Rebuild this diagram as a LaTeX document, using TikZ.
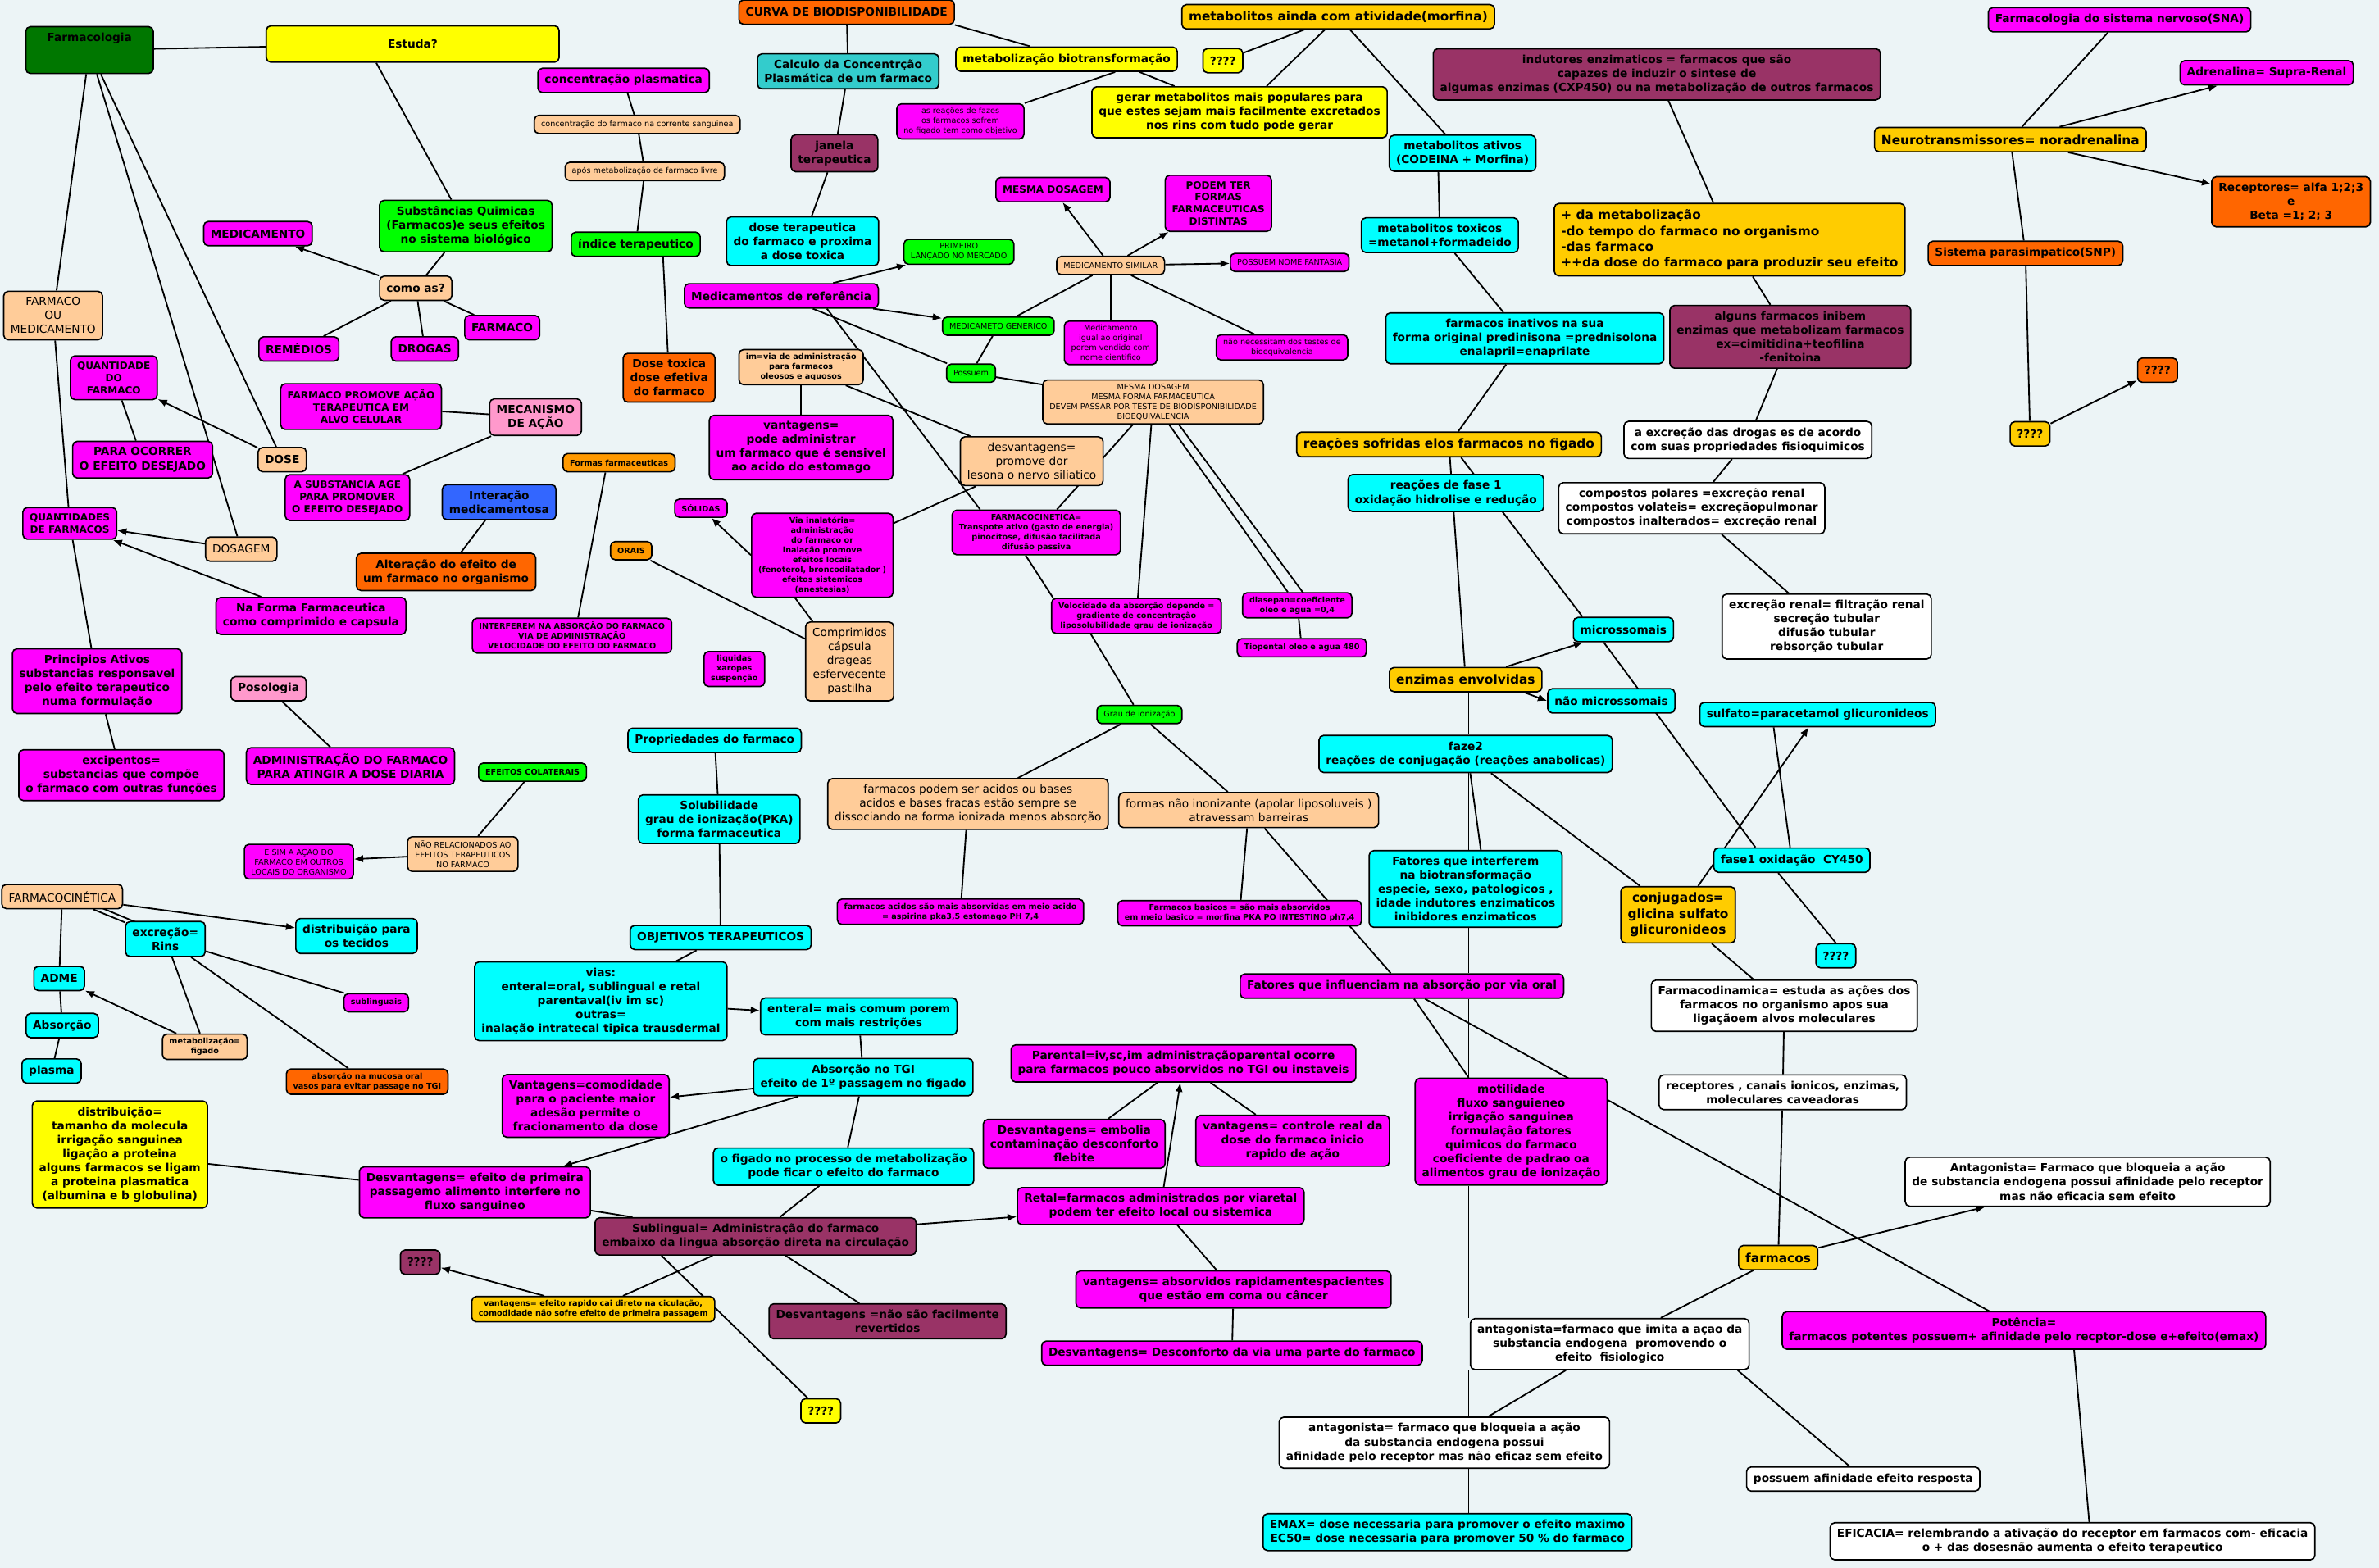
\documentclass[tikz,border=0pt]{standalone}
\usepackage{fontspec}
\setmainfont{DejaVu Sans}
\usetikzlibrary{arrows.meta, positioning, calc}

\definecolor{mapbg}{RGB}{236,244,246}
\definecolor{cmLeaf}{RGB}{0,119,0}
\definecolor{cmLemon}{RGB}{255,255,0}
\definecolor{cmLime}{RGB}{0,255,0}
\definecolor{cmMag}{RGB}{255,0,255}
\definecolor{cmCyan}{RGB}{0,255,255}
\definecolor{cmPeach}{RGB}{255,204,153}
\definecolor{cmPink}{RGB}{255,153,204}
\definecolor{cmBlue}{RGB}{51,102,255}
\definecolor{cmOrange}{RGB}{255,102,0}
\definecolor{cmAmber}{RGB}{255,153,0}
\definecolor{cmGold}{RGB}{255,204,0}
\definecolor{cmTeal}{RGB}{51,204,204}
\definecolor{cmMaroon}{RGB}{153,51,102}

\pgfdeclarelayer{backdrop}
\pgfdeclarelayer{links}
\pgfsetlayers{backdrop,links,main}

\begin{document}
\begin{tikzpicture}[
    x=1pt, y=-1pt,
    mapbox/.style={draw=black, line width=0.9pt, rounded corners=3pt, align=center,
        inner xsep=4.5pt, inner ysep=4pt, minimum height=16,
        font=\bfseries\fontsize{7.4}{9.2}\selectfont},
    fbig/.style={font=\bfseries\fontsize{8.3}{10.5}\selectfont},
    fmid/.style={font=\bfseries\fontsize{6.5}{8}\selectfont},
    fsm/.style={font=\bfseries\fontsize{5.2}{6.5}\selectfont, minimum height=12, inner ysep=2.5pt},
    freg/.style={font=\fontsize{7.4}{9.2}\selectfont},
    fsmreg/.style={font=\fontsize{5.2}{6.5}\selectfont, minimum height=12, inner ysep=2.5pt},
    leaf box/.style={mapbox, fill=cmLeaf},
    lemon box/.style={mapbox, fill=cmLemon},
    lime box/.style={mapbox, fill=cmLime},
    magenta box/.style={mapbox, fill=cmMag},
    cyan box/.style={mapbox, fill=cmCyan},
    peach box/.style={mapbox, fill=cmPeach},
    pink box/.style={mapbox, fill=cmPink},
    blue box/.style={mapbox, fill=cmBlue},
    orange box/.style={mapbox, fill=cmOrange},
    amber box/.style={mapbox, fill=cmAmber},
    gold box/.style={mapbox, fill=cmGold},
    teal box/.style={mapbox, fill=cmTeal},
    maroon box/.style={mapbox, fill=cmMaroon},
    white box/.style={mapbox, fill=white},
    map link/.style={draw=black, line width=1pt},
    map arrow/.style={map link, -{Latex[length=6pt,width=5pt]}}
]

\useasboundingbox (0,0) rectangle (1568,1033.6);
\begin{pgfonlayer}{backdrop}
\fill[mapbg] (0,0) rectangle (1568,1033.6);
\end{pgfonlayer}

% --- Farmacologia and its first branches ---
\node[leaf box, minimum width=84] (far) at (59,33) {Farmacologia\\[8pt]\mbox{}};
\node[lemon box, minimum width=193, minimum height=24] (est) at (272,29) {Estuda?};
\node[lime box] (subst) at (307,149) {Substâncias Quimicas\\(Farmacos)e seus efeitos\\no sistema biológico};
\node[magenta box] (medic) at (170,154) {MEDICAMENTO};
\node[peach box] (comoas) at (274,190) {como as?};
\node[magenta box] (remed) at (197,230) {REMÉDIOS};
\node[magenta box] (drog) at (280,230) {DROGAS};
\node[magenta box] (farm) at (331,216) {FARMACO};
\node[peach box, freg] (fom) at (35,208) {FARMACO\\OU\\MEDICAMENTO};
\node[magenta box, fmid] (qtd) at (75,249) {QUANTIDADE\\DO\\FARMACO};
\node[magenta box] (para) at (94,303) {PARA OCORRER\\O EFEITO DESEJADO};
\node[peach box] (dose) at (186,303) {DOSE};
\node[magenta box, fmid] (farpro) at (238,268) {FARMACO PROMOVE AÇÃO\\TERAPEUTICA EM\\ALVO CELULAR};
\node[pink box] (mec) at (353,275) {MECANISMO\\DE AÇÃO};
\node[magenta box, fmid] (subage) at (229,328) {A SUBSTANCIA AGE\\PARA PROMOVER\\O EFEITO DESEJADO};
\node[blue box] (inter) at (329,331) {Interação\\medicamentosa};
\node[orange box] (alter) at (294,377) {Alteração do efeito de\\um farmaco no organismo};
\node[magenta box, fmid] (qtds) at (46,345) {QUANTIDADES\\DE FARMACOS};
\node[peach box, freg] (dosag) at (159,362) {DOSAGEM};
\node[magenta box] (naforma) at (205,406) {Na Forma Farmaceutica\\como comprimido e capsula};
\node[magenta box] (princ) at (64,449) {Principios Ativos\\substancias responsavel\\pelo efeito terapeutico\\numa formulação};
\node[pink box] (poso) at (177,454) {Posologia};
\node[magenta box] (excip) at (80,511) {excipentos=\\substancias que compõe\\o farmaco com outras funções};
\node[magenta box] (admin) at (231,505) {ADMINISTRAÇÃO DO FARMACO\\PARA ATINGIR A DOSE DIARIA};
\node[lime box, fsm] (efcol) at (351,509) {EFEITOS COLATERAIS};
\node[peach box, fsmreg] (naorel) at (305,563) {NÃO RELACIONADOS AO\\EFEITOS TERAPEUTICOS\\NO FARMACO};
\node[magenta box, fsmreg] (esim) at (197,568) {E SIM A AÇÃO DO\\FARMACO EM OUTROS\\LOCAIS DO ORGANISMO};

% --- Farmacocinetica (ADME) ---
\node[peach box, freg] (fcin) at (41,591) {FARMACOCINÉTICA};
\node[cyan box] (excr) at (109,619) {excreção=\\Rins};
\node[cyan box] (distr) at (235,617) {distribuição para\\os tecidos};
\node[cyan box] (adme) at (39,645) {ADME};
\node[cyan box] (absor) at (41,676) {Absorção};
\node[cyan box] (plasma) at (34,706) {plasma};
\node[peach box, fsm] (metfig) at (135,690) {metabolização=\\figado};
\node[magenta box, fsm] (subl) at (248,661) {sublinguais};
\node[orange box, fsm] (mucosa) at (242,713) {absorção na mucosa oral\\vasos para evitar passage no TGI};
\node[lemon box] (distsang) at (79,761) {distribuição=\\tamanho da molecula\\irrigação sanguinea\\ligação a proteina\\alguns farmacos se ligam\\a proteina plasmatica\\(albumina e b globulina)};

% --- Formas farmaceuticas ---
\node[amber box, fsm] (formas) at (408,305) {Formas farmaceuticas};
\node[magenta box, fsm] (interf) at (377,419) {INTERFEREM NA ABSORÇÃO DO FARMACO\\VIA DE ADMINISTRAÇÃO\\VELOCIDADE DO EFEITO DO FARMACO};
\node[magenta box, fsm] (solid) at (462,335) {SÓLIDAS};
\node[amber box, fsm] (orais) at (416,363) {ORAIS};
\node[magenta box, fsm] (inal) at (542,366) {Via inalatória=\\administração\\do farmaco or\\inalação promove\\efeitos locais\\(fenoterol, broncodilatador )\\efeitos sistemicos\\(anestesias)};
\node[magenta box, fsm] (liq) at (484,441) {liquidas\\xaropes\\suspenção};
\node[peach box, freg] (compr) at (560,436) {Comprimidos\\cápsula\\drageas\\esfervecente\\pastilha};

% --- Vias de administracao ---
\node[cyan box] (prop) at (471,488) {Propriedades do farmaco};
\node[cyan box] (solub) at (474,540) {Solubilidade\\grau de ionização(PKA)\\forma farmaceutica};
\node[cyan box] (objt) at (475,618) {OBJETIVOS TERAPEUTICOS};
\node[cyan box] (vias) at (396,660) {vias:\\enteral=oral, sublingual e retal\\parentaval(iv im sc)\\outras=\\inalação intratecal tipica trausdermal};
\node[cyan box] (enter) at (566,670) {enteral= mais comum porem\\com mais restrições};
\node[cyan box] (tgi) at (569,710) {Absorção no TGI\\efeito de 1º passagem no figado};
\node[magenta box] (vantcom) at (386,729) {Vantagens=comodidade\\para o paciente maior\\adesão permite o\\fracionamento da dose};
\node[cyan box] (figado) at (556,769) {o figado no processo de metabolização\\pode ficar o efeito do farmaco};
\node[magenta box] (desvpri) at (313,786) {Desvantagens= efeito de primeira\\passagemo alimento interfere no\\fluxo sanguineo};
\node[maroon box] (sublg) at (498,815) {Sublingual= Administração do farmaco\\embaixo da lingua absorção direta na circulação};
\node[maroon box] (qm1) at (277,832) {????};
\node[gold box, fsm] (vantrap) at (391,863) {vantagens= efeito rapido cai direto na ciculação,\\comodidade não sofre efeito de primeira passagem};
\node[maroon box] (desvrev) at (585,871) {Desvantagens =não são facilmente\\revertidos};
\node[lemon box] (qy1) at (541,930) {????};
\node[magenta box] (parent) at (780,701) {Parental=iv,sc,im administraçãoparental ocorre\\para farmacos pouco absorvidos no TGI ou instaveis};
\node[magenta box] (desvemb) at (708,754) {Desvantagens= embolia\\contaminação desconforto\\flebite};
\node[magenta box] (vantctl) at (852,752) {vantagens= controle real da\\dose do farmaco inicio\\rapido de ação};
\node[magenta box] (retal) at (765,795) {Retal=farmacos administrados por viaretal\\podem ter efeito local ou sistemica};
\node[magenta box] (vantabs) at (813,850) {vantagens= absorvidos rapidamentespacientes\\que estão em coma ou câncer};
\node[magenta box] (desvdesc) at (812,892) {Desvantagens= Desconforto da via uma parte do farmaco};

% --- Biodisponibilidade and medicamentos ---
\node[orange box] (curva) at (558,8) {CURVA DE BIODISPONIBILIDADE};
\node[teal box] (calc) at (559,47) {Calculo da Concentrção\\Plasmática de um farmaco};
\node[lemon box] (metbio) at (703,39) {metabolização biotransformação};
\node[magenta box] (concpl) at (411,53) {concentração plasmatica};
\node[peach box, fsmreg] (concfar) at (420,82) {concentração do farmaco na corrente sanguinea};
\node[peach box, fsmreg] (apos) at (425,113) {após metabolização de farmaco livre};
\node[lime box] (indice) at (419,161) {índice terapeutico};
\node[orange box] (dtox) at (441,249) {Dose toxica\\dose efetiva\\do farmaco};
\node[maroon box] (janela) at (550,101) {janela\\terapeutica};
\node[magenta box, fsmreg] (reacfaz) at (633,80) {as reações de fazes\\os farmacos sofrem\\no figado tem como objetivo};
\node[cyan box] (dter) at (529,159) {dose terapeutica\\do farmaco e proxima\\a dose toxica};
\node[magenta box] (medref) at (515,195) {Medicamentos de referência};
\node[lime box, fsmreg] (prim) at (632,166) {PRIMEIRO\\LANÇADO NO MERCADO};
\node[lime box, fsmreg] (gener) at (658,215) {MEDICAMETO GENERICO};
\node[lime box, fsmreg] (possu) at (640,246) {Possuem};
\node[peach box, fsm] (im) at (528,242) {im=via de administração\\para farmacos\\oleosos e aquosos};
\node[magenta box] (vantim) at (528,295) {vantagens=\\pode administrar\\um farmaco que é sensivel\\ao acido do estomago};
\node[peach box, freg] (desvim) at (680,304) {desvantagens=\\promove dor\\lesona o nervo siliatico};
\node[magenta box, fsm] (fcin2) at (683,351) {FARMACOCINETICA=\\Transpote ativo (gasto de energia)\\pinocitose, difusão facilitada\\difusão passiva};
\node[magenta box, fmid] (mesdos) at (694,125) {MESMA DOSAGEM};
\node[magenta box, fmid] (podem) at (803,134) {PODEM TER\\FORMAS\\FARMACEUTICAS\\DISTINTAS};
\node[peach box, fsmreg] (simil) at (732,175) {MEDICAMENTO SIMILAR};
\node[magenta box, fsmreg] (fantas) at (850,173) {POSSUEM NOME FANTASIA};
\node[magenta box, fsmreg] (igual) at (732,226) {Medicamento\\igual ao original\\porem vendido com\\nome cientifico};
\node[magenta box, fsmreg] (naonec) at (845,229) {não necessitam dos testes de\\bioequivalencia};
\node[peach box, fsmreg] (mesmas) at (760,265) {MESMA DOSAGEM\\MESMA FORMA FARMACEUTICA\\DEVEM PASSAR POR TESTE DE BIODISPONIBILIDADE\\BIOEQUIVALENCIA};
\node[magenta box, fsm] (veloc) at (749,406) {Velocidade da absorção depende =\\gradiente de concentração\\liposolubilidade grau de ionização};
\node[magenta box, fsm] (diasep) at (855,399) {diasepan=coeficiente\\oleo e agua =0,4};
\node[magenta box, fsm] (tiop) at (858,427) {Tiopental oleo e agua 480};
\node[lime box, fsmreg] (grau) at (751,471) {Grau de ionização};
\node[peach box, freg] (acbas) at (638,530) {farmacos podem ser acidos ou bases\\acidos e bases fracas estão sempre se\\dissociando na forma ionizada menos absorção};
\node[peach box, freg] (naoion) at (823,534) {formas não inonizante (apolar liposoluveis )\\atravessam barreiras};
\node[magenta box, fsm] (acidos) at (633,601) {farmacos acidos são mais absorvidas em meio acido\\= aspirina pka3,5 estomago PH 7,4};
\node[magenta box, fsm] (basicos) at (817,602) {Farmacos basicos = são mais absorvidos\\em meio basico = morfina PKA PO INTESTINO ph7,4};
\node[magenta box] (fatinf) at (924,650) {Fatores que influenciam na absorção por via oral};

% --- Metabolizacao ---
\node[gold box, fbig] (metain) at (882,11) {metabolitos ainda com atividade(morfina)};
\node[lemon box] (qy2) at (806,40) {????};
\node[lemon box] (gerar) at (817,74) {gerar metabolitos mais populares para\\que estes sejam mais facilmente excretados\\nos rins com tudo pode gerar};
\node[cyan box] (metat) at (964,101) {metabolitos ativos\\(CODEINA + Morfina)};
\node[cyan box] (mettox) at (949,155) {metabolitos toxicos\\=metanol+formadeido};
\node[maroon box] (indut) at (1092,49) {indutores enzimaticos = farmacos que são\\capazes de induzir o sintese de\\algumas enzimas (CXP450) ou na metabolização de outros farmacos};
\node[gold box, fbig, align=left] (mais) at (1140,158) {+ da metabolização\\-do tempo do farmaco no organismo\\-das farmaco\\++da dose do farmaco para produzir seu efeito};
\node[cyan box] (inat) at (1005,223) {farmacos inativos na sua\\forma original predinisona =prednisolona\\enalapril=enaprilate};
\node[maroon box] (inib) at (1180,222) {alguns farmacos inibem\\enzimas que metabolizam farmacos\\ex=cimitidina+teofilina\\-fenitoina};
\node[gold box, fbig] (reacsof) at (955,293) {reações sofridas elos farmacos no figado};
\node[white box] (excdrog) at (1152,290) {a excreção das drogas es de acordo\\com suas propriedades fisioquimicos};
\node[cyan box] (fase1r) at (953,325) {reações de fase 1\\oxidação hidrolise e redução};
\node[white box] (compost) at (1115,335) {compostos polares =excreção renal\\compostos volateis= excreçãopulmonar\\compostos inalterados= excreção renal};
\node[white box] (excren) at (1204,413) {excreção renal= filtração renal\\secreção tubular\\difusão tubular\\rebsorção tubular};
\node[cyan box] (micro) at (1070,415) {microssomais};
\node[gold box, fbig] (enzim) at (966,448) {enzimas envolvidas};
\node[cyan box] (naomic) at (1062,462) {não microssomais};
\node[cyan box] (sulf) at (1198,471) {sulfato=paracetamol glicuronideos};
\node[cyan box] (faze2) at (966,497) {faze2\\reações de conjugação (reações anabolicas)};
\node[cyan box] (fatint) at (966,586) {Fatores que interferem\\na biotransformação\\especie, sexo, patologicos ,\\idade indutores enzimaticos\\inibidores enzimaticos};
\node[gold box, fbig] (conj) at (1106,603) {conjugados=\\glicina sulfato\\glicuronideos};
\node[cyan box] (fase1) at (1181,567) {fase1 oxidação\ \ CY450};
\node[cyan box] (qc) at (1210,630) {????};

% --- Farmacodinamica ---
\node[white box] (fdin) at (1176,663) {Farmacodinamica= estuda as ações dos\\farmacos no organismo apos sua\\ligaçãoem alvos moleculares};
\node[white box] (recep) at (1175,720) {receptores , canais ionicos, enzimas,\\moleculares caveadoras};
\node[magenta box] (motil) at (996,746) {motilidade\\fluxo sanguieneo\\irrigação sanguinea\\formulação fatores\\quimicos do farmaco\\coeficiente de padrao oa\\alimentos grau de ionização};
\node[white box] (antag1) at (1376,779) {Antagonista= Farmaco que bloqueia a ação\\de substancia endogena possui afinidade pelo receptor\\mas não eficacia sem efeito};
\node[gold box, fbig] (farmacos) at (1172,829) {farmacos};
\node[magenta box] (poten) at (1334,877) {Potência=\\farmacos potentes possuem+ afinidade pelo recptor-dose e+efeito(emax)};
\node[white box] (antim) at (1061,886) {antagonista=farmaco que imita a açao da\\substancia endogena\ \ promovendo o\\efeito\ \ fisiologico};
\node[white box] (antbl) at (952,951) {antagonista= farmaco que bloqueia a ação\\da substancia endogena possui\\afinidade pelo receptor mas não eficaz sem efeito};
\node[white box] (possaf) at (1228,975) {possuem afinidade efeito resposta};
\node[cyan box] (emax) at (954,1010) {EMAX= dose necessaria para promover o efeito maximo\\EC50= dose necessaria para promover 50 \% do farmaco};
\node[white box] (efic) at (1366,1016) {EFICACIA= relembrando a ativação do receptor em farmacos com- eficacia\\o + das dosesnão aumenta o efeito terapeutico};

% --- Sistema nervoso ---
\node[magenta box] (sna) at (1397,13) {Farmacologia do sistema nervoso(SNA)};
\node[magenta box] (adren) at (1494,48) {Adrenalina= Supra-Renal};
\node[gold box, fbig] (neuro) at (1325,92) {Neurotransmissores= noradrenalina};
\node[orange box] (recalf) at (1510,133) {Receptores= alfa 1;2;3\\e\\Beta =1; 2; 3};
\node[orange box] (snp) at (1335,167) {Sistema parasimpatico(SNP)};
\node[orange box] (qo) at (1422,244) {????};
\node[gold box] (qg) at (1338,286) {????};

\coordinate (spine) at (968,0);

% --- Connectors (behind the boxes) ---
\begin{pgfonlayer}{links}
\draw[map link] (far) -- (est);
\draw[map link] ([xshift=-24pt]est.south) -- (subst);
\draw[map link] (subst) -- (comoas);
\draw[map arrow] (comoas) -- (medic);
\draw[map link] (comoas) -- (remed);
\draw[map link] (comoas) -- (drog);
\draw[map link] (comoas) -- (farm);
\draw[map link] (far) -- (fom);
\draw[map link] (fom) -- (qtds);
\draw[map link] (qtds) -- (princ);
\draw[map link] (princ) -- (excip);
\draw[map link] (far) -- (dose);
\draw[map link] (far) -- (dosag);
\draw[map arrow] (dose) -- (qtd);
\draw[map link] (qtd) -- (para);
\draw[map arrow] (dosag) -- (qtds);
\draw[map arrow] (naforma) -- (qtds);
\draw[map link] (mec) -- (farpro);
\draw[map link] (mec) -- (subage);
\draw[map link] (inter) -- (alter);
\draw[map link] ([xshift=-9pt]formas.south) -- ([xshift=4pt]interf.north);
\draw[map link] (poso) -- (admin);
\draw[map link] (efcol) -- (naorel);
\draw[map arrow] (naorel) -- (esim);

% ADME
\draw[map link] (fcin) -- (adme);
\draw[map link] (adme) -- (absor);
\draw[map link] (absor) -- (plasma);
\draw[map arrow] (fcin) -- (distr);
\draw[map link] (fcin) -- (excr);
\draw[map link] ([xshift=8pt]fcin.center) -- ([yshift=3pt]excr.center);
\draw[map link] (excr) -- (metfig);
\draw[map link] (excr) -- (mucosa);
\draw[map link] (excr) -- (subl);
\draw[map arrow] (metfig) -- (adme);
\draw[map link] (distsang) -- (desvpri);

% vias
\draw[map link] (prop) -- (solub);
\draw[map link] (solub) -- (objt);
\draw[map link] (objt) -- (vias);
\draw[map arrow] (vias) -- (enter);
\draw[map link] (enter) -- (tgi);
\draw[map arrow] (tgi) -- (vantcom);
\draw[map arrow] (tgi) -- (desvpri);
\draw[map link] (tgi) -- (figado);
\draw[map link] (figado) -- (sublg);
\draw[map link] (desvpri) -- (sublg);
\draw[map arrow] (sublg) -- (retal);
\draw[map link] (sublg) -- (vantrap);
\draw[map link] ([xshift=-62pt]sublg.south) -- (qy1);
\draw[map arrow] (vantrap) -- (qm1);
\draw[map link] (sublg) -- (desvrev);
\draw[map arrow] (retal) -- (parent);
\draw[map link] (parent) -- (desvemb);
\draw[map link] (parent) -- (vantctl);
\draw[map link] (retal) -- (vantabs);
\draw[map link] (vantabs) -- (desvdesc);

% biodisponibilidade
\draw[map link] (curva) -- (calc);
\draw[map link] (curva.south east) -- ([xshift=-24pt]metbio.north);
\draw[map link] (calc) -- (janela);
\draw[map link] (janela) -- (dter);
\draw[map link] (concpl) -- (concfar);
\draw[map link] (concfar) -- (apos);
\draw[map link] (apos) -- (indice);
\draw[map link] ([xshift=18pt]indice.south) -- (dtox);
\draw[map link] ([xshift=32pt]metbio.south) -- (reacfaz.north east);
\draw[map link] ([xshift=48pt]metbio.south) -- (gerar);
\draw[map link] (metain) -- (qy2);
\draw[map link] (metain) -- (gerar);
\draw[map link] (metain) -- (metat);
\draw[map link] ([xshift=-16pt]metat.south) -- (mettox);
\draw[map link] (mettox) -- (inat);
\draw[map link] (inat) -- (reacsof);

% medicamentos
\draw[map arrow] (medref) -- (prim);
\draw[map arrow] (medref) -- (gener);
\draw[map link] (medref) -- (possu);
\draw[map link] ([xshift=30pt]medref.south) -- ([xshift=-37pt]fcin2.north);
\draw[map link] (gener) -- (possu);
\draw[map link] (possu) -- (mesmas);
\draw[map link] (im) -- (vantim);
\draw[map link] (im) -- (desvim);
\draw[map link] (desvim) -- (inal);
\draw[map link] (mesmas) -- (fcin2);
\draw[map link] (mesmas) -- (veloc);
\draw[map link] (mesmas) -- (diasep);
\draw[map link] ([xshift=6pt]mesmas.center) -- ([xshift=10pt]diasep.center);
\draw[map link] (diasep) -- (tiop);
\draw[map link] ([xshift=-7pt]fcin2.south) -- ([xshift=-55pt]veloc.north);
\draw[map link] ([xshift=-30pt]veloc.south) -- (grau);
\draw[map link] (grau) -- (acbas);
\draw[map link] (grau) -- (naoion);
\draw[map link] (acbas) -- (acidos);
\draw[map link] (naoion) -- (basicos);
\draw[map link] (naoion) -- (fatinf);
\draw[map link] (orais) -- (compr);
\draw[map link] ([xshift=5pt]compr.north west) -- ([xshift=-18pt]inal.south);
\draw[map arrow] (inal.west) -- (solid);
\draw[map arrow] (simil) -- (mesdos);
\draw[map arrow] (simil) -- (podem);
\draw[map arrow] (simil) -- (fantas);
\draw[map link] (simil) -- (igual);
\draw[map link] (simil) -- (naonec);
\draw[map link] (simil) -- (gener);

% metabolizacao
\draw[map link] (indut) -- (mais);
\draw[map link] (mais) -- (inib);
\draw[map link] (inib) -- (excdrog);
\draw[map link] (excdrog) -- (compost);
\draw[map link] (compost) -- (excren);
\draw[map link] (reacsof) -- (enzim);
\draw[map link] ([xshift=8pt]reacsof.south) -- ([xshift=-27pt]micro.north);
\draw[map arrow] (enzim) -- (micro);
\draw[map link] (enzim.south -| spine) -- (faze2.north -| spine);
\draw[map link] ([xshift=-13pt]micro.south) -- ([xshift=-24pt]fase1.north);
\draw[map link] (faze2.south -| spine) -- (fatint.north -| spine);
\draw[map link] ([xshift=3pt]faze2.south) -- ([xshift=10pt]fatint.north);
\draw[map link] (faze2) -- (conj);
\draw[map arrow] (conj) -- (sulf);
\draw[map link] ([xshift=-29pt]sulf.south) -- (fase1);
\draw[map link] ([xshift=-9pt]fase1.south) -- (qc.north);

% farmacodinamica
\draw[map link] (conj) -- (fdin);
\draw[map link] (fdin) -- (recep);
\draw[map link] (recep) -- (farmacos);
\draw[map arrow] (farmacos) -- (antag1);
\draw[map link] (farmacos) -- (antim);
\draw[map link] (fatint.south -| spine) -- (fatinf.north -| spine);
\draw[map link] (fatinf.south -| spine) -- (motil.north -| spine);
\draw[map link] ([xshift=8pt]fatinf.south) -- (motil.north -| spine);
\draw[map link] (fatinf) -- (poten);
\draw[map link] (motil.south -| spine) -- (antim.north -| spine);
\draw[map link] (antim.south -| spine) -- (antbl.north -| spine);
\draw[map link] (antim) -- (antbl);
\draw[map link] ([xshift=-8pt]antim.south east) -- ([xshift=-9pt]possaf.north);
\draw[map link] (antbl.south -| spine) -- (emax.north -| spine);
\draw[map link] ([xshift=33pt]poten.south) -- ([xshift=11pt]efic.north);

% sistema nervoso
\draw[map link] (sna) -- (neuro);
\draw[map arrow] (neuro) -- (adren);
\draw[map arrow] (neuro) -- (recalf);
\draw[map link] (neuro) -- (snp);
\draw[map link] (snp) -- (qg);
\draw[map arrow] (qg) -- (qo);
\end{pgfonlayer}

\draw[map arrow] ([xshift=-12pt]enzim.south east) -- (naomic.west);

\end{tikzpicture}
\end{document}
